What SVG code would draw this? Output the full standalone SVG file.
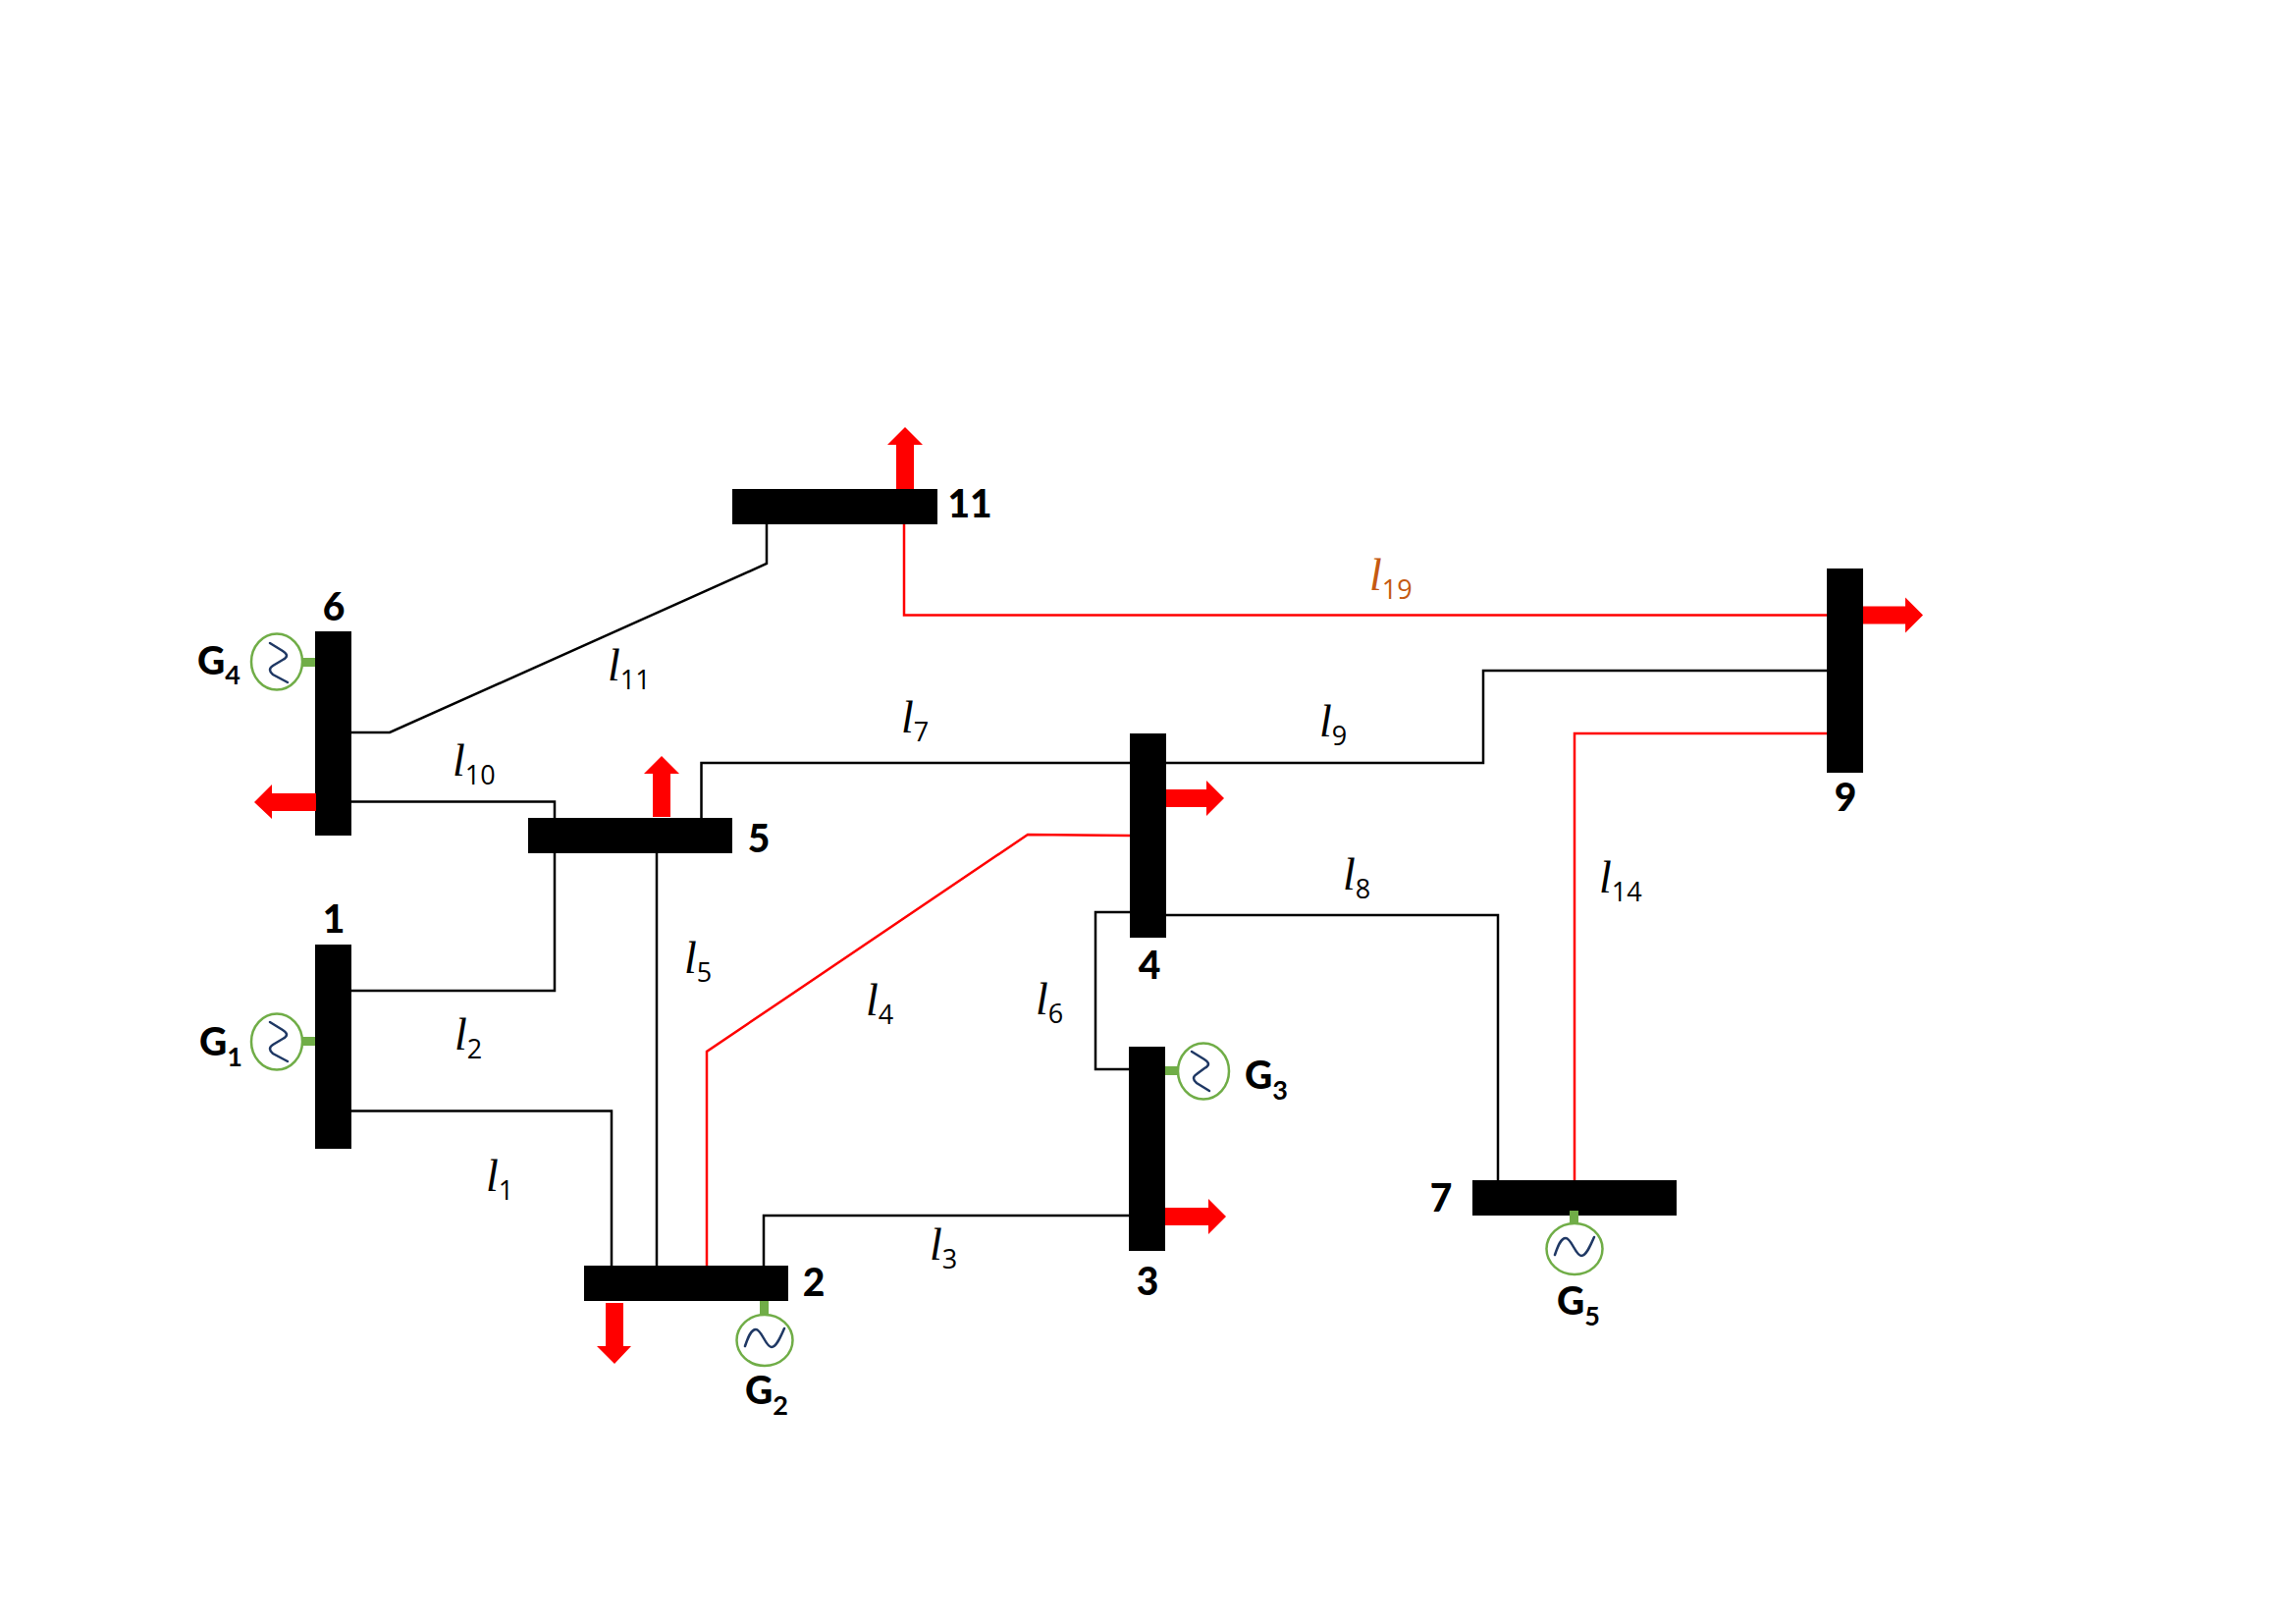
<svg xmlns="http://www.w3.org/2000/svg" width="2339" height="1654" viewBox="0 0 2339 1654">
<style>
.bus{fill:#000}
.line{fill:none;stroke:#000;stroke-width:2.5}
.hot{fill:none;stroke:#f00;stroke-width:2.5}
.load{fill:#f00}
.stub{fill:#70ad47}
.gen{fill:#fff;stroke:#70ad47;stroke-width:2.5}
.wave{fill:none;stroke:#1f3864;stroke-width:2.5;stroke-linecap:round}
.num{font:900 39px Lato,"Open Sans",sans-serif;fill:#000}
.num .s{font-size:27px;font-weight:700}
.mid{text-anchor:middle}
.lbl{font:italic 46px "Liberation Serif",serif;fill:#000}
.lbl .s{font:400 27px "Open Sans",sans-serif}
.orange{fill:#c55a11}
</style>
<g id="connectors">
<path class="line" d="M358 746H397L781 574V534"/>
<path class="line" d="M358 816.5H565V833"/>
<path class="line" d="M358 1009H565V869"/>
<path class="line" d="M358 1131.500H623V1289"/>
<path class="line" d="M669 869V1289"/>
<path class="hot" d="M720 1289V1071L1047 850L1151 851"/>
<path class="line" d="M778 1289V1238H1150"/>
<path class="line" d="M714.500 833V777H1151"/>
<path class="line" d="M1188 777H1511V683H1862"/>
<path class="hot" d="M921 534V626.500H1862"/>
<path class="hot" d="M1862 747H1604V1202"/>
<path class="line" d="M1188 932H1526V1202"/>
<path class="line" d="M1151 929H1116V1089H1150"/>
</g>
<g id="bus6"><rect class="bus" x="321" y="643" width="37" height="208"/><text class="num mid" x="340" y="632">6</text></g>
<g id="bus1"><rect class="bus" x="321" y="962" width="37" height="208"/><text class="num mid" x="340" y="950">1</text></g>
<g id="bus5"><rect class="bus" x="538" y="833" width="208" height="36"/><text class="num mid" x="773" y="868">5</text></g>
<g id="bus2"><rect class="bus" x="595" y="1289" width="208" height="36"/><text class="num mid" x="829" y="1320">2</text></g>
<g id="bus3"><rect class="bus" x="1150" y="1066" width="37" height="208"/><text class="num mid" x="1169" y="1319">3</text></g>
<g id="bus4"><rect class="bus" x="1151" y="747" width="37" height="208"/><text class="num mid" x="1171" y="997">4</text></g>
<g id="bus7"><rect class="bus" x="1500" y="1202" width="208" height="36"/><text class="num mid" x="1468" y="1234">7</text></g>
<g id="bus9"><rect class="bus" x="1861" y="579" width="37" height="208"/><text class="num mid" x="1880" y="826">9</text></g>
<g id="bus11"><rect class="bus" x="746" y="498" width="209" height="36"/><text class="num mid" x="988" y="527">11</text></g>
<g id="loads">
<path class="load" d="M322 808H277V799L259 817L277 834V826H322Z"/>
<path class="load" d="M617 1327V1371H608L626 1389L643 1371H635V1327Z"/>
<path class="load" d="M1187 1230H1231V1221L1249 1239L1231 1257V1248H1187Z"/>
<path class="load" d="M913 498V453H904L922 435L940 453H931V498Z"/>
<path class="load" d="M665 832V788H656L674 770L692 788H683V832Z"/>
<path class="load" d="M1188 804H1229V795L1247 813L1229 831V822H1188Z"/>
<path class="load" d="M1898 617.500H1941V608.500L1959 626.500L1941 644.500V635.500H1898Z"/>
</g>
<g id="G4"><rect class="stub" x="306" y="670" width="15" height="9"/><ellipse class="gen" cx="282" cy="674" rx="26" ry="28.500"/><path class="wave" d="M275 655L288 663Q296 668 288 672L278 678Q272 682 278 687L293 695"/><text class="num" x="201" y="687">G<tspan class="s" dy="10">4</tspan></text></g>
<g id="G1"><rect class="stub" x="306" y="1056" width="15" height="9"/><ellipse class="gen" cx="282" cy="1061" rx="26" ry="28.500"/><path class="wave" d="M275 1041L288 1049Q296 1054 288 1058L278 1064Q272 1068 278 1073L293 1081"/><text class="num" x="203" y="1075">G<tspan class="s" dy="11">1</tspan></text></g>
<g id="G3"><rect class="stub" x="1187" y="1086" width="14" height="9"/><ellipse class="gen" cx="1226" cy="1091" rx="26" ry="28.500"/><path class="wave" d="M1214 1071L1227 1079Q1235 1084 1227 1088L1219 1094Q1213 1098 1219 1103L1232 1111"/><text class="num" x="1268" y="1109">G<tspan class="s" dy="11">3</tspan></text></g>
<g id="G2"><rect class="stub" x="774" y="1325" width="9" height="14"/><ellipse class="gen" cx="779" cy="1365" rx="28.500" ry="26"/><path class="wave" d="M759 1371C762 1362 765 1354 770 1354C776 1354 780 1372 786 1372C791 1372 795 1362 799 1353"/><text class="num" x="759" y="1430">G<tspan class="s" dy="11">2</tspan></text></g>
<g id="G5"><rect class="stub" x="1599" y="1233" width="9" height="14"/><ellipse class="gen" cx="1604" cy="1272" rx="28.500" ry="26"/><path class="wave" d="M1584 1278C1587 1269 1590 1261 1595 1261C1601 1261 1605 1279 1611 1279C1616 1279 1620 1269 1624 1260"/><text class="num" x="1586" y="1339">G<tspan class="s" dy="11">5</tspan></text></g>
<g id="line-labels">
<text class="lbl" x="619" y="693">l<tspan class="s" dy="9">11</tspan></text>
<text class="lbl" x="461" y="790">l<tspan class="s" dy="9">10</tspan></text>
<text class="lbl" x="918" y="746">l<tspan class="s" dy="9">7</tspan></text>
<text class="lbl" x="1344" y="750">l<tspan class="s" dy="9">9</tspan></text>
<text class="lbl" x="463" y="1069">l<tspan class="s" dy="9">2</tspan></text>
<text class="lbl" x="495" y="1213">l<tspan class="s" dy="9">1</tspan></text>
<text class="lbl" x="697" y="991">l<tspan class="s" dy="9">5</tspan></text>
<text class="lbl" x="882" y="1034">l<tspan class="s" dy="9">4</tspan></text>
<text class="lbl" x="1055" y="1033">l<tspan class="s" dy="9">6</tspan></text>
<text class="lbl" x="1368" y="906">l<tspan class="s" dy="9">8</tspan></text>
<text class="lbl" x="1629" y="909">l<tspan class="s" dy="9">14</tspan></text>
<text class="lbl" x="947" y="1283">l<tspan class="s" dy="9">3</tspan></text>
<text class="lbl orange" x="1395" y="601">l<tspan class="s" dy="9">19</tspan></text>
</g>
</svg>
